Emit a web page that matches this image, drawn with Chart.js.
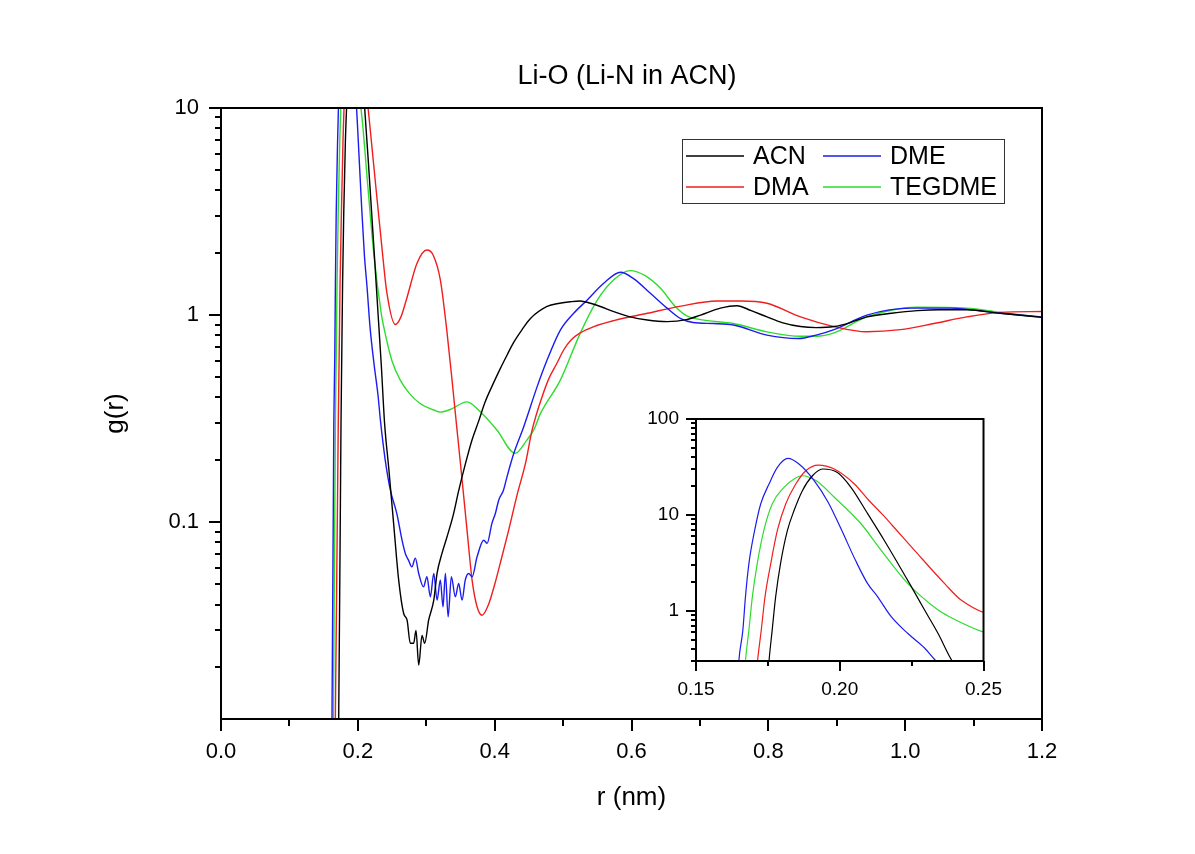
<!DOCTYPE html>
<html>
<head>
<meta charset="utf-8">
<title>Li-O (Li-N in ACN)</title>
<script src="https://cdn.jsdelivr.net/npm/chart.js@4.4.0/dist/chart.umd.min.js"></script>
<style>
  html, body { margin: 0; background: #fff; }
  #wrap { position: relative; width: 1195px; height: 854px; }
  #main { position: absolute; left: 0; top: 0; }
  #inset { position: absolute; left: 640px; top: 400px; }
</style>
</head>
<body>
<div id="wrap">
  <canvas id="main" width="1195" height="854"></canvas>
  <canvas id="inset" width="369" height="310"></canvas>
</div>
<script>
// g(r), [r (nm), g(r)]
const ACN = [[0.1695,0.005],[0.172,0.011],[0.1754,0.3],[0.1765,0.63],[0.1777,1.40],[0.1794,3.11],[0.1818,6.89],[0.1841,11.1],[0.1870,17.9],[0.1905,25.6],[0.1940,30.1],[0.1992,27.7],[0.2039,19.4],[0.2097,10.3],[0.2155,5.42],[0.2243,1.92],[0.2295,1.02],[0.2342,0.58],[0.2391,0.30],[0.245,0.185],[0.2523,0.0986],[0.2597,0.0525],[0.267,0.0362],[0.272,0.0336],[0.2767,0.026],[0.2816,0.026],[0.285,0.030],[0.289,0.0204],[0.2938,0.0284],[0.2977,0.026],[0.3035,0.0336],[0.311,0.042],[0.3158,0.0565],[0.323,0.0706],[0.3304,0.085],[0.340,0.110],[0.347,0.140],[0.357,0.19],[0.367,0.25],[0.377,0.31],[0.386,0.38],[0.397,0.46],[0.408,0.55],[0.418,0.64],[0.428,0.74],[0.440,0.85],[0.452,0.96],[0.4766,1.10],[0.495,1.14],[0.5107,1.16],[0.525,1.17],[0.540,1.14],[0.5545,1.10],[0.574,1.04],[0.598,0.98],[0.623,0.946],[0.652,0.93],[0.680,0.95],[0.701,1.0],[0.730,1.08],[0.754,1.11],[0.775,1.05],[0.798,0.98],[0.820,0.92],[0.847,0.88],[0.870,0.87],[0.896,0.88],[0.920,0.92],[0.944,0.98],[0.980,1.02],[1.018,1.05],[1.050,1.06],[1.090,1.06],[1.139,1.02],[1.200,0.975]];
const DME = [[0.160,0.005],[0.1622,0.011],[0.1649,0.3],[0.1663,0.63],[0.1672,1.40],[0.1684,3.11],[0.1704,6.89],[0.1725,13.0],[0.1754,21.0],[0.1783,31.3],[0.1820,38.8],[0.1858,33.9],[0.1911,22.8],[0.1960,13.5],[0.2004,7.2],[0.2056,3.3],[0.2097,1.92],[0.2132,1.40],[0.2179,0.87],[0.2237,0.58],[0.2295,0.41],[0.233,0.311],[0.240,0.20],[0.2475,0.143],[0.257,0.110],[0.2646,0.0818],[0.2694,0.0706],[0.274,0.0655],[0.279,0.0608],[0.284,0.067],[0.289,0.0565],[0.296,0.0487],[0.301,0.0545],[0.306,0.0436],[0.311,0.0565],[0.3158,0.042],[0.3206,0.0525],[0.3245,0.039],[0.328,0.0565],[0.332,0.0349],[0.3367,0.0545],[0.3425,0.0436],[0.3474,0.0506],[0.3523,0.042],[0.357,0.0525],[0.362,0.0565],[0.367,0.0545],[0.3743,0.068],[0.384,0.0818],[0.389,0.079],[0.396,0.0986],[0.401,0.110],[0.406,0.128],[0.413,0.143],[0.418,0.1655],[0.428,0.215],[0.4425,0.289],[0.462,0.45],[0.4766,0.606],[0.496,0.846],[0.5155,1.02],[0.535,1.18],[0.559,1.42],[0.584,1.61],[0.603,1.50],[0.628,1.27],[0.652,1.08],[0.672,0.96],[0.690,0.92],[0.720,0.91],[0.749,0.895],[0.798,0.80],[0.844,0.77],[0.870,0.80],[0.896,0.85],[0.944,1.0],[1.008,1.08],[1.066,1.08],[1.139,1.02],[1.200,0.98]];
const DMA = [[0.1655,0.005],[0.1671,0.011],[0.1714,0.3],[0.1727,0.63],[0.1740,1.40],[0.1760,3.11],[0.1783,6.89],[0.1812,13.0],[0.1847,21.0],[0.1882,28.9],[0.1925,33.1],[0.1981,30.1],[0.2051,21.0],[0.2100,14.3],[0.2150,10],[0.2200,6.8],[0.2260,4.27],[0.2365,1.92],[0.2423,1.29],[0.2548,0.90],[0.263,0.98],[0.272,1.22],[0.2865,1.78],[0.301,2.06],[0.310,1.95],[0.3206,1.48],[0.330,0.846],[0.3377,0.485],[0.3445,0.289],[0.350,0.192],[0.3596,0.0915],[0.367,0.0525],[0.3743,0.039],[0.3816,0.0355],[0.391,0.040],[0.400,0.050],[0.408,0.063],[0.4205,0.0915],[0.4327,0.135],[0.445,0.192],[0.4547,0.278],[0.469,0.40],[0.480,0.50],[0.491,0.585],[0.501,0.68],[0.512,0.76],[0.525,0.82],[0.545,0.88],[0.574,0.94],[0.623,1.02],[0.672,1.105],[0.725,1.17],[0.760,1.17],[0.798,1.14],[0.847,0.98],[0.896,0.88],[0.944,0.83],[0.993,0.85],[1.042,0.91],[1.090,0.98],[1.139,1.03],[1.200,1.04]];
const TEGDME = [[0.1625,0.005],[0.1642,0.011],[0.1672,0.3],[0.1684,0.63],[0.1696,1.40],[0.1713,3.11],[0.1736,6.89],[0.1765,13.0],[0.1806,19.4],[0.1841,23.7],[0.1870,25.6],[0.1917,22.8],[0.1981,15.3],[0.2074,8.09],[0.2144,4.27],[0.2237,1.92],[0.2342,1.02],[0.2378,0.88],[0.250,0.60],[0.262,0.485],[0.275,0.42],[0.291,0.374],[0.311,0.348],[0.3206,0.34],[0.335,0.35],[0.3596,0.381],[0.379,0.341],[0.4035,0.278],[0.430,0.215],[0.447,0.249],[0.457,0.278],[0.467,0.335],[0.496,0.485],[0.525,0.816],[0.550,1.18],[0.574,1.48],[0.598,1.64],[0.620,1.55],[0.642,1.35],[0.664,1.10],[0.681,0.99],[0.701,0.95],[0.749,0.91],[0.798,0.83],[0.847,0.79],[0.870,0.79],[0.896,0.82],[0.944,0.98],[1.018,1.09],[1.090,1.08],[1.139,1.03],[1.200,0.975]];

const solvents = ['ACN', 'DME', 'DMA', 'TEGDME'];
const seriesData = [ACN, DME, DMA, TEGDME];
const lineColors = ['#000000', '#1c1cf0', '#f01e1e', '#2edc2e'];

const mainXLabels = ['0.0', '0.2', '0.4', '0.6', '0.8', '1.0', '1.2'];
const mainYLabels = ['0.1', '1', '10'];
const insetXLabels = ['0.15', '0.20', '0.25'];
const insetYLabels = ['1', '10', '100'];

const chartTitle = 'Li-O (Li-N in ACN)';

Chart.defaults.font.family = '"Liberation Sans", Arial, sans-serif';
Chart.defaults.color = '#000';

function labelFor(list, v) {
    const hit = list.find(s => Math.abs(parseFloat(s) - v) < 1e-6);
    return hit === undefined ? '' : hit;
}

function makeDatasets(width) {
    return solvents.map((name, i) => ({
        label: name,
        data: seriesData[i].map(p => ({ x: p[0], y: p[1] })),
        borderColor: lineColors[i],
        borderWidth: width,
        pointRadius: 0,
        cubicInterpolationMode: 'monotone',
        fill: false
    }));
}

// box round the plot + outward ticks (long for labelled, short otherwise)
const frameTicks = {
    id: 'frameTicks',
    afterDraw(chart, args, o) {
        const { ctx, chartArea: a, scales: { x, y } } = chart;
        ctx.save();
        ctx.strokeStyle = '#000';
        ctx.lineWidth = 2;
        ctx.strokeRect(a.left, a.top, a.right - a.left, a.bottom - a.top);
        ctx.beginPath();
        x.ticks.forEach(t => {
            const px = Math.round(x.getPixelForValue(t.value));
            const len = t.label !== '' ? o.xMajor : o.xMinor;
            ctx.moveTo(px, a.bottom);
            ctx.lineTo(px, a.bottom + len);
        });
        for (let e = Math.floor(Math.log10(y.min)); e <= Math.ceil(Math.log10(y.max)); e++) {
            for (let k = 1; k <= 9; k++) {
                const v = k * Math.pow(10, e);
                if (v < y.min * 0.999 || v > y.max * 1.001) continue;
                const py = Math.round(y.getPixelForValue(v));
                ctx.moveTo(a.left, py);
                ctx.lineTo(a.left - (k === 1 ? o.yMajor : o.yMinor), py);
            }
        }
        ctx.stroke();
        ctx.restore();
    }
};

// two-column legend in a box, plus the title
const boxLegend = {
    id: 'boxLegend',
    afterDraw(chart, args, o) {
        if (!o.show) return;
        const ctx = chart.ctx;
        ctx.save();
        ctx.fillStyle = '#fff';
        ctx.fillRect(o.x, o.y, o.w, o.h);
        ctx.strokeStyle = '#333';
        ctx.lineWidth = 1;
        ctx.strokeRect(o.x + 0.5, o.y + 0.5, o.w, o.h);
        ctx.font = '25px "Liberation Sans", Arial, sans-serif';
        ctx.textBaseline = 'middle';
        chart.data.datasets.forEach((ds, i) => {
            const col = i % 2, row = Math.floor(i / 2);
            const lx = o.x + 4 + col * 137;
            const ly = o.y + 17 + row * 31;
            ctx.strokeStyle = ds.borderColor;
            ctx.lineWidth = 1.4;
            ctx.beginPath();
            ctx.moveTo(lx, ly);
            ctx.lineTo(lx + 58, ly);
            ctx.stroke();
            ctx.fillStyle = '#000';
            ctx.fillText(ds.label, lx + 67, ly + 1);
        });
        ctx.font = '27px "Liberation Sans", Arial, sans-serif';
        ctx.textAlign = 'center';
        ctx.fillText(chartTitle, o.titleX, o.titleY);
        ctx.restore();
    }
};

function axisGrid(len) {
    return { display: true, drawOnChartArea: false, drawTicks: true, tickLength: len, color: 'rgba(0,0,0,0)', tickColor: 'rgba(0,0,0,0)' };
}

new Chart(document.getElementById('main'), {
    type: 'line',
    data: { datasets: makeDatasets(1.4) },
    options: {
        responsive: false,
        animation: false,
        devicePixelRatio: 1,
        layout: { padding: { left: 0, right: 153, top: 108, bottom: 0 } },
        plugins: {
            legend: { display: false },
            tooltip: { enabled: false },
            frameTicks: { xMajor: 12, xMinor: 7, yMajor: 12, yMinor: 6 },
            boxLegend: { show: true, x: 682, y: 139, w: 322, h: 64, titleX: 627, titleY: 77 }
        },
        scales: {
            x: {
                type: 'linear', min: 0, max: 1.2,
                grid: axisGrid(12),
                border: { display: false },
                ticks: { stepSize: 0.1, autoSkip: false, maxRotation: 0, padding: 8, font: { size: 22 },
                         callback: v => labelFor(mainXLabels, v) },
                title: { display: true, text: 'r (nm)', font: { size: 26 }, padding: { top: 0, bottom: 41 } },
                afterFit: s => { s.height = 135; }
            },
            y: {
                type: 'logarithmic', min: 0.0112, max: 10,
                grid: axisGrid(12),
                border: { display: false },
                ticks: { autoSkip: false, padding: 10, font: { size: 22 },
                         callback: v => labelFor(mainYLabels, v) },
                title: { display: true, text: 'g(r)', font: { size: 26 }, padding: { top: 100, bottom: 0 } },
                afterFit: s => { s.width = 221; }
            }
        }
    },
    plugins: [frameTicks, boxLegend]
});

// inset: zoom on the first peak
new Chart(document.getElementById('inset'), {
    type: 'line',
    data: { datasets: makeDatasets(1.2) },
    options: {
        responsive: false,
        animation: false,
        devicePixelRatio: 1,
        layout: { padding: { left: 0, right: 18, top: 19, bottom: 0 } },
        plugins: {
            legend: { display: false },
            tooltip: { enabled: false },
            frameTicks: { xMajor: 10, xMinor: 5, yMajor: 10, yMinor: 5 },
            boxLegend: { show: false }
        },
        scales: {
            x: {
                type: 'linear', min: 0.15, max: 0.25,
                grid: axisGrid(10),
                border: { display: false },
                ticks: { stepSize: 0.025, autoSkip: false, maxRotation: 0, padding: 7, font: { size: 19 },
                         callback: v => labelFor(insetXLabels, v) },
                afterFit: s => { s.height = 49; }
            },
            y: {
                type: 'logarithmic', min: 0.303, max: 100,
                grid: axisGrid(10),
                border: { display: false },
                ticks: { autoSkip: false, padding: 7, font: { size: 19 },
                         callback: v => labelFor(insetYLabels, v) },
                afterFit: s => { s.width = 56; }
            }
        }
    },
    plugins: [frameTicks, boxLegend]
});
</script>
</body>
</html>
